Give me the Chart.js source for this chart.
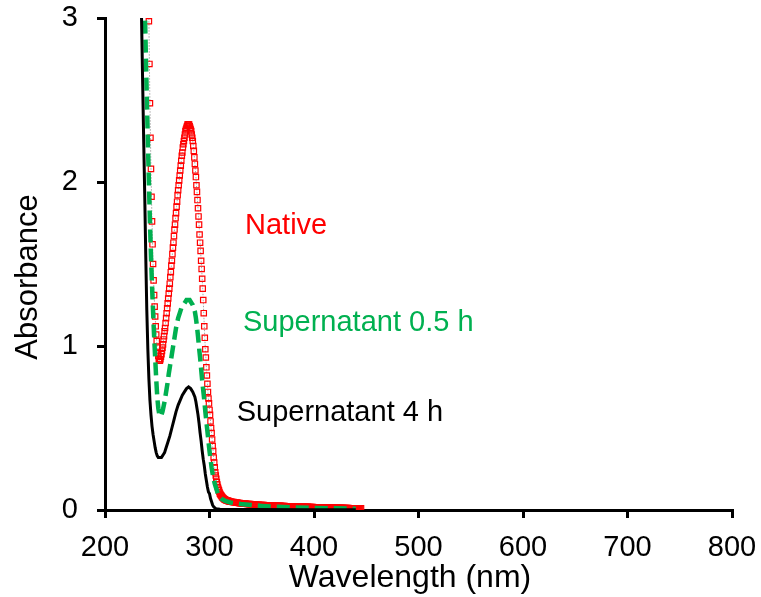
<!DOCTYPE html>
<html>
<head>
<meta charset="utf-8">
<script src="https://cdn.jsdelivr.net/npm/chart.js@4.4.1/dist/chart.umd.min.js"></script>
<style>
  html, body { margin: 0; padding: 0; background: #fff; }
</style>
</head>
<body>
<canvas id="spectra" width="761" height="597"></canvas>
<script>
// UV spectra: native protein vs supernatants

// Native: 0.5 nm steps from 241.5 to 320 nm, then 1 nm steps from 321 to 445 nm
const nativeStart = 241.5;
const nativeStep = 0.5;
const nativeAbs = [
  3.20, 2.98, 2.72, 2.48, 2.27, 2.08, 1.91, 1.76, 1.62, 1.50,       // 241.5
  1.40, 1.31, 1.24, 1.18, 1.12, 1.07, 1.03, 0.99, 0.96, 0.94,       // 246.5
  0.92, 0.91, 0.91, 0.92, 0.935, 0.95, 0.97, 0.99, 1.01, 1.04,      // 251.5
  1.06, 1.09, 1.11, 1.14, 1.17, 1.20, 1.23, 1.26, 1.29, 1.32,       // 256.5
  1.35, 1.38, 1.42, 1.45, 1.49, 1.52, 1.56, 1.60, 1.63, 1.67,       // 261.5
  1.71, 1.74, 1.78, 1.81, 1.85, 1.88, 1.92, 1.95, 1.98, 2.01,       // 266.5
  2.04, 2.07, 2.10, 2.13, 2.16, 2.18, 2.21, 2.23, 2.25, 2.27,       // 271.5
  2.29, 2.31, 2.32, 2.33, 2.34, 2.35, 2.35, 2.35, 2.35, 2.34,       // 276.5
  2.33, 2.32, 2.31, 2.29, 2.27, 2.25, 2.22, 2.19, 2.15, 2.11,       // 281.5
  2.07, 2.03, 1.98, 1.94, 1.89, 1.84, 1.79, 1.74, 1.68, 1.63,       // 286.5
  1.58, 1.52, 1.47, 1.41, 1.35, 1.28, 1.20, 1.12, 1.05, 0.98,       // 291.5
  0.93, 0.87, 0.82, 0.77, 0.72, 0.68, 0.65, 0.61, 0.58, 0.54,       // 296.5
  0.50, 0.47, 0.43, 0.39, 0.36, 0.32, 0.29, 0.26, 0.23, 0.21,       // 301.5
  0.19, 0.17, 0.155, 0.14, 0.13, 0.12, 0.11, 0.10, 0.095, 0.09,     // 306.5
  0.085, 0.08, 0.076, 0.073, 0.07, 0.067, 0.065, 0.063, 0.061, 0.059, // 311.5
  0.058, 0.057, 0.056, 0.055, 0.054, 0.053, 0.052, 0.051            // 316.5
];
const nativeTailStart = 321;
const nativeTailStep = 1;
const nativeTailAbs = [
  0.050, 0.049, 0.048, 0.047, 0.046, 0.045, 0.044, 0.043, 0.042, 0.041, // 321
  0.040, 0.040, 0.039, 0.039, 0.038, 0.037, 0.037, 0.036, 0.036, 0.035, // 331
  0.035, 0.034, 0.034, 0.033, 0.033, 0.032, 0.032, 0.031, 0.031, 0.030, // 341
  0.030, 0.030, 0.029, 0.029, 0.029, 0.028, 0.028, 0.028, 0.027, 0.027, // 351
  0.027, 0.026, 0.026, 0.026, 0.025, 0.025, 0.025, 0.025, 0.024, 0.024, // 361
  0.024, 0.024, 0.023, 0.023, 0.023, 0.023, 0.022, 0.022, 0.022, 0.022, // 371
  0.021, 0.021, 0.021, 0.021, 0.020, 0.020, 0.020, 0.020, 0.020, 0.019, // 381
  0.019, 0.019, 0.019, 0.019, 0.018, 0.018, 0.018, 0.018, 0.018, 0.017, // 391
  0.017, 0.017, 0.017, 0.017, 0.016, 0.016, 0.016, 0.016, 0.016, 0.016, // 401
  0.015, 0.015, 0.015, 0.015, 0.015, 0.014, 0.014, 0.014, 0.014, 0.014, // 411
  0.014, 0.013, 0.013, 0.013, 0.013, 0.013, 0.013, 0.012, 0.012, 0.012, // 421
  0.012, 0.012, 0.012, 0.011, 0.011, 0.011, 0.011, 0.011, 0.011, 0.011, // 431
  0.010, 0.010, 0.010, 0.010, 0.010                                     // 441
];

// Supernatant 0.5 h
const halfHourWl = [
  238, 239, 240, 241, 242, 243, 244, 245, 246, 247, 248, 249, 250, 251, 252, 253,
  254, 255, 256, 257, 258, 259, 260, 261, 262, 263, 264, 265, 266, 267, 268, 269,
  270, 271, 272, 273, 274, 275, 276, 277, 278, 279, 280, 281, 282, 283, 284, 285,
  286, 287, 288, 289, 290, 291, 292, 293, 294, 295, 296, 297, 298, 299, 300, 301,
  302, 303, 304, 305, 306, 307, 308, 309, 310, 312, 315, 320, 330, 340, 350, 360,
  370, 380, 400, 420, 440
];
const halfHourAbs = [
  3.10, 2.80, 2.52, 2.25, 2.00, 1.76, 1.55, 1.37, 1.21, 1.06, 0.93, 0.80, 0.69, 0.62, 0.58, 0.57,
  0.58, 0.60, 0.63, 0.66, 0.70, 0.74, 0.78, 0.83, 0.87, 0.91, 0.95, 0.99, 1.03, 1.07, 1.11, 1.14,
  1.17, 1.19, 1.21, 1.23, 1.24, 1.25, 1.26, 1.27, 1.28, 1.28, 1.28, 1.28, 1.27, 1.26, 1.25, 1.23,
  1.21, 1.17, 1.12, 1.06, 0.99, 0.93, 0.86, 0.79, 0.73, 0.67, 0.60, 0.54, 0.48, 0.42, 0.36, 0.31,
  0.26, 0.22, 0.19, 0.16, 0.14, 0.12, 0.10, 0.09, 0.08, 0.066, 0.056, 0.046, 0.036, 0.030, 0.025, 0.021,
  0.018, 0.016, 0.013, 0.010, 0.008
];

// Supernatant 4 h
const fourHourWl = [
  234, 235, 236, 237, 238, 239, 240, 241, 242, 243, 244, 245, 246, 247, 248, 249,
  250, 251, 252, 253, 254, 255, 256, 257, 258, 259, 260, 262, 264, 266, 268, 270,
  272, 274, 276, 278, 280, 282, 284, 286, 287, 288, 289, 290, 291, 292, 293, 294,
  295, 296, 297, 298, 299, 300, 301, 302, 303, 304, 306, 310, 340, 400, 440
];
const fourHourAbs = [
  3.20, 2.99, 2.62, 2.26, 1.93, 1.55, 1.22, 0.98, 0.80, 0.67, 0.58, 0.51, 0.46, 0.42, 0.38, 0.35,
  0.33, 0.32, 0.32, 0.32, 0.32, 0.33, 0.34, 0.35, 0.37, 0.39, 0.41, 0.45, 0.50, 0.55, 0.60, 0.64,
  0.67, 0.70, 0.72, 0.74, 0.75, 0.74, 0.72, 0.69, 0.66, 0.62, 0.58, 0.53, 0.47, 0.42, 0.36, 0.31,
  0.27, 0.22, 0.18, 0.14, 0.11, 0.10, 0.07, 0.05, 0.03, 0.02, 0.008, 0.004, 0.003, 0.002, 0.002
];

// in-plot labels (wavelength, absorbance at baseline)
const noteText = ['Native', 'Supernatant 0.5 h', 'Supernatant 4 h'];
const noteX = [334, 332, 326];
const noteY = [1.68, 1.09, 0.54];
const noteColor = ['#ff0000', '#00b050', '#000000'];

const FONT = '"Liberation Sans", Arial, sans-serif';

function stepped(start, step, values) {
  return values.map((v, i) => ({ x: start + i * step, y: v }));
}
function paired(xs, ys) {
  return xs.map((x, i) => ({ x: x, y: ys[i] }));
}

const notesPlugin = {
  id: 'notes',
  afterDatasetsDraw(chart) {
    const { ctx, scales } = chart;
    ctx.save();
    ctx.font = '29px ' + FONT;
    ctx.textAlign = 'left';
    ctx.textBaseline = 'alphabetic';
    noteText.forEach((t, i) => {
      ctx.fillStyle = noteColor[i];
      ctx.fillText(t, scales.x.getPixelForValue(noteX[i]), scales.y.getPixelForValue(noteY[i]));
    });
    // axis titles, placed like the original (a bit off the plot centre)
    ctx.fillStyle = '#000';
    ctx.textAlign = 'center';
    ctx.textBaseline = 'middle';
    ctx.font = '32px ' + FONT;
    ctx.fillText('Wavelength (nm)', 410, 578);
    ctx.translate(28, 277);
    ctx.rotate(-Math.PI / 2);
    ctx.font = '31px ' + FONT;
    ctx.fillText('Absorbance', 0, 0);
    ctx.restore();
  }
};

const axisCommon = {
  grid: { drawOnChartArea: false, color: '#000', lineWidth: 3, tickLength: 8 },
  border: { color: '#000', width: 3 }
};

new Chart(document.getElementById('spectra'), {
  type: 'line',
  data: {
    datasets: [
      {
        label: 'Supernatant 4 h',
        data: paired(fourHourWl, fourHourAbs),
        borderColor: '#000',
        borderWidth: 3,
        pointRadius: 0,
        tension: 0
      },
      {
        label: 'Supernatant 0.5 h',
        data: paired(halfHourWl, halfHourAbs),
        borderColor: '#00b050',
        borderWidth: 4.5,
        borderDash: [13, 6],
        pointRadius: 0,
        tension: 0
      },
      {
        label: 'Native',
        data: stepped(nativeStart, nativeStep, nativeAbs).concat(stepped(nativeTailStart, nativeTailStep, nativeTailAbs)),
        borderColor: '#a6a6a6',
        borderWidth: 1,
        borderDash: [1.5, 1.5],
        pointStyle: 'rect',
        pointRadius: 3.8,
        pointBorderWidth: 1.2,
        pointBorderColor: '#ff0000',
        pointBackgroundColor: 'rgba(255,255,255,0)',
        tension: 0
      }
    ]
  },
  options: {
    responsive: false,
    animation: false,
    clip: 0,
    layout: { padding: { top: 18, right: 29, left: 0, bottom: 0 } },
    plugins: { legend: { display: false }, tooltip: { enabled: false } },
    scales: {
      x: {
        ...axisCommon,
        type: 'linear',
        min: 200, max: 800,
        ticks: { stepSize: 100, color: '#000', font: { family: FONT, size: 29 }, padding: 13, maxRotation: 0 },
        afterFit(s) { s.height = 87; s.paddingLeft = 0; s.paddingRight = 0; }
      },
      y: {
        ...axisCommon,
        min: 0, max: 3,
        ticks: { stepSize: 1, color: '#000', font: { family: FONT, size: 29 }, padding: 19 },
        afterFit(s) { s.width = 105; s.paddingTop = 0; s.paddingBottom = 0; }
      }
    }
  },
  plugins: [notesPlugin]
});
</script>
</body>
</html>
